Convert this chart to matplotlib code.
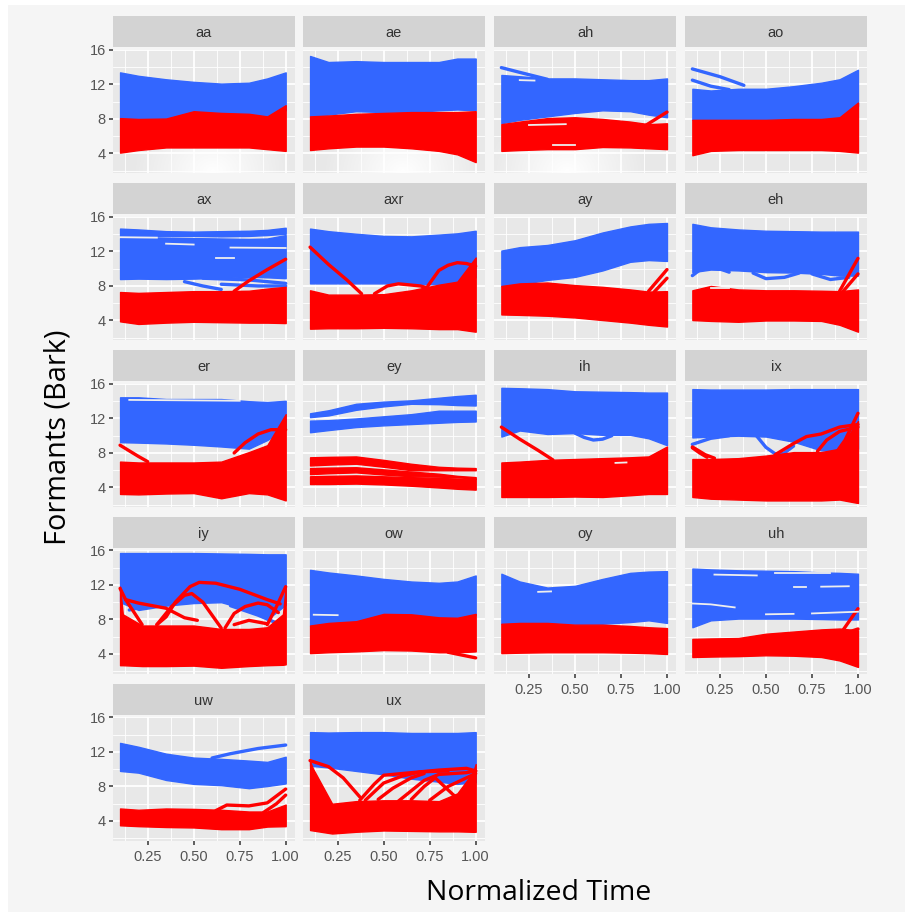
import matplotlib
matplotlib.use('Agg')
import matplotlib.pyplot as plt
from matplotlib.patches import Rectangle
import numpy as np

# --- Data (Bark values at these normalized times) ---
T = [0.1, 0.2, 0.35, 0.5, 0.65, 0.8, 0.9, 1.0]
T_FAN = [0.1, 0.115, 0.22, 0.35, 0.5, 0.65, 0.8, 0.9, 0.985, 1.0]

aa_f2_hi = [13.4, 13.0, 12.6, 12.3, 12.1, 12.2, 12.7, 13.4]
aa_f2_lo = [8.0, 8.0, 8.0, 8.5, 8.5, 8.4, 8.2, 9.0]
aa_f1_hi = [8.1, 8.0, 8.05, 8.9, 8.7, 8.6, 8.3, 9.6]
aa_f1_lo = [4.1, 4.4, 4.7, 4.7, 4.7, 4.7, 4.5, 4.3]

ae_f2_hi = [15.3, 14.6, 14.7, 14.6, 14.6, 14.6, 15.0, 15.0]
ae_f2_lo = [8.3, 8.5, 8.9, 8.8, 8.8, 9.0, 9.1, 9.0]
ae_f1_hi = [8.3, 8.4, 8.6, 8.7, 8.8, 8.8, 8.8, 8.9]
ae_f1_lo = [4.4, 4.6, 4.8, 4.8, 4.6, 4.3, 3.9, 3.0]

ah_f2_hi = [13.1, 12.95, 12.7, 12.7, 12.6, 12.5, 12.5, 12.7]
ah_f2_lo = [7.5, 7.9, 8.3, 8.7, 9.0, 8.9, 8.5, 8.2]
ah_f1_hi = [7.4, 7.7, 8.1, 8.2, 8.0, 7.7, 7.4, 7.5]
ah_f1_lo = [4.3, 4.4, 4.5, 4.5, 4.75, 4.7, 4.6, 4.5]
ah_f2_lines = [([0.1, 0.2, 0.35], [13.95, 13.4, 12.6])]
ah_f1_lines = [([0.88, 1.0], [7.2, 8.8])]
ah_gaps = [([0.2, 0.28], [12.5, 12.45]), ([0.25, 0.45], [7.3, 7.4]), ([0.38, 0.5], [4.95, 4.95])]

ao_f2_hi = [11.5, 11.3, 11.5, 11.5, 11.8, 12.2, 12.6, 13.7]
ao_f2_lo = [7.9, 7.9, 7.9, 7.9, 8.0, 8.0, 8.2, 9.5]
ao_f1_hi = [7.9, 7.9, 7.9, 7.9, 8.0, 8.0, 8.2, 9.9]
ao_f1_lo = [3.8, 4.3, 4.4, 4.4, 4.4, 4.4, 4.3, 4.1]
ao_f2_lines = [([0.1, 0.25, 0.38], [13.8, 12.9, 11.9]),
               ([0.1, 0.2, 0.3], [12.5, 11.8, 11.4])]

ax_f2a_hi = [14.65, 14.55, 14.35, 14.3, 14.35, 14.4, 14.5, 14.75]
ax_f2a_lo = [13.75, 13.7, 13.75, 13.8, 13.75, 13.8, 13.9, 14.05]
ax_f2b_hi = [13.55, 13.6, 13.55, 13.55, 13.5, 13.45, 13.5, 13.9]
ax_f2b_lo = [8.8, 8.85, 8.8, 8.85, 8.95, 9.05, 9.0, 8.9]
ax_f1_hi = [7.3, 7.2, 7.3, 7.4, 7.4, 7.45, 7.7, 7.9]
ax_f1_lo = [3.9, 3.6, 3.75, 3.85, 3.8, 3.75, 3.75, 3.7]
ax_f2_lines = [([0.45, 0.55, 0.65], [8.5, 8.0, 7.6]),
               ([0.55, 0.8, 1.0], [8.9, 8.7, 8.3]),
               ([0.65, 0.85, 1.0], [8.2, 8.0, 8.0])]
ax_f1_lines = [([0.72, 0.8, 0.9, 1.0], [7.4, 8.6, 9.9, 11.1])]
ax_gaps = [([0.1, 0.3], [13.65, 13.6]), ([0.7, 1.0], [12.45, 12.4]),
           ([0.62, 0.72], [11.2, 11.2]), ([0.35, 0.5], [12.9, 12.8])]

axr_f2_hi = [14.65, 14.35, 14.05, 13.8, 13.75, 13.95, 14.1, 14.4]
axr_f2_lo = [8.3, 8.3, 8.3, 8.3, 8.2, 8.2, 8.4, 9.0]
axr_f1_hi = [7.5, 7.0, 7.0, 7.05, 7.5, 8.15, 8.5, 11.3]
axr_f1_lo = [3.05, 3.1, 3.1, 3.15, 3.1, 3.0, 3.0, 2.7]
axr_f1_lines = [([0.1, 0.2, 0.3, 0.38], [12.5, 10.5, 8.7, 7.1]),
                ([0.45, 0.52, 0.58, 0.7, 0.75], [7.1, 8.0, 8.25, 8.0, 7.7]),
                ([0.74, 0.8, 0.85, 0.9, 0.95, 1.0], [8.0, 9.8, 10.4, 10.7, 10.6, 10.3])]

ay_f2_hi = [12.1, 12.5, 12.75, 13.3, 14.2, 14.9, 15.2, 15.3]
ay_f2_lo = [8.0, 8.2, 8.7, 9.05, 9.8, 10.8, 11.0, 10.9]
ay_f1_hi = [8.0, 8.3, 8.4, 8.1, 7.9, 7.6, 7.35, 7.4]
ay_f1_lo = [4.7, 4.65, 4.55, 4.35, 4.05, 3.75, 3.5, 3.3]
ay_f1_lines = [([0.9, 1.0], [7.4, 9.9]), ([0.93, 1.0], [7.3, 8.9])]

eh_f2_hi = [15.2, 14.8, 14.55, 14.4, 14.35, 14.3, 14.3, 14.3]
eh_f2_lo = [9.6, 9.9, 9.8, 9.6, 9.55, 9.4, 9.2, 9.2]
eh_f1_hi = [7.5, 8.0, 7.6, 7.5, 7.5, 7.45, 7.4, 7.6]
eh_f1_lo = [4.05, 3.95, 3.85, 4.0, 4.0, 3.95, 3.5, 2.7]
eh_f2_lines = [([0.1, 0.18, 0.3], [9.2, 10.5, 9.6]),
               ([0.43, 0.5, 0.6, 0.68], [9.5, 8.85, 9.0, 9.5]),
               ([0.75, 0.85, 0.95], [9.4, 8.75, 9.0])]
eh_f1_lines = [([0.9, 1.0], [7.4, 11.2]), ([0.92, 1.0], [7.4, 9.4])]
eh_gaps = [([0.2, 0.3], [7.75, 7.75])]

er_f2_hi = [14.45, 14.45, 14.25, 14.25, 14.25, 14.0, 13.9, 14.05]
er_f2_lo = [9.25, 9.2, 9.1, 8.95, 8.75, 8.5, 9.5, 10.8]
er_f1_hi = [7.0, 6.9, 6.9, 6.9, 7.0, 8.1, 8.9, 12.5]
er_f1_lo = [3.25, 3.2, 3.3, 3.35, 2.75, 3.35, 3.2, 2.5]
er_f1_lines = [([0.1, 0.2, 0.25], [8.9, 7.6, 7.0]),
               ([0.72, 0.78, 0.85, 0.92, 1.0], [8.0, 9.2, 10.2, 10.7, 10.7])]
er_gaps = [([0.15, 0.75], [14.15, 14.05])]

ey_f2a_hi = [12.6, 12.95, 13.7, 13.95, 14.1, 14.4, 14.6, 14.75]
ey_f2a_lo = [12.15, 12.35, 13.0, 13.4, 13.7, 13.65, 13.55, 13.5]
ey_f2b_hi = [11.75, 11.8, 12.0, 12.25, 12.5, 12.9, 12.9, 12.9]
ey_f2b_lo = [10.4, 10.65, 11.0, 11.2, 11.35, 11.5, 11.6, 11.65]
ey_f1a_hi = [7.5, 7.55, 7.6, 7.2, 6.75, 6.4, 6.3, 6.25]
ey_f1a_lo = [6.55, 6.65, 6.75, 6.4, 6.0, 6.0, 6.0, 6.0]
ey_f1b_hi = [6.25, 6.3, 6.35, 6.1, 5.85, 5.6, 5.35, 5.2]
ey_f1b_lo = [5.55, 5.65, 5.75, 5.5, 5.3, 5.25, 5.2, 5.0]
ey_f1c_hi = [5.3, 5.35, 5.4, 5.3, 5.2, 5.1, 5.05, 5.0]
ey_f1c_lo = [4.4, 4.4, 4.45, 4.35, 4.2, 4.0, 3.85, 3.75]

ih_f2_hi = [15.55, 15.5, 15.4, 15.15, 15.1, 15.05, 15.0, 15.0]
ih_f2_lo = [9.9, 10.6, 10.2, 10.3, 10.1, 10.1, 9.7, 8.9]
ih_f1_hi = [6.9, 7.0, 7.2, 7.3, 7.4, 7.5, 7.6, 8.75]
ih_f1_lo = [2.9, 2.9, 2.9, 2.95, 2.9, 3.1, 3.25, 3.25]
ih_f2_lines = [([0.5, 0.55, 0.6, 0.65, 0.7], [10.3, 9.8, 9.5, 9.6, 10.0])]
ih_f1_lines = [([0.1, 0.2, 0.3, 0.38], [11.0, 9.6, 8.3, 7.2])]
ih_gaps = [([0.72, 0.78], [6.85, 6.9])]

ix_f2_hi = [15.4, 15.35, 15.35, 15.35, 15.4, 15.4, 15.4, 15.4]
ix_f2_lo = [9.8, 9.9, 10.0, 9.9, 9.3, 8.3, 8.2, 8.5]
ix_f1_hi = [7.3, 7.3, 7.4, 7.7, 8.1, 8.1, 8.5, 11.7]
ix_f1_lo = [2.9, 2.7, 2.6, 2.5, 2.5, 2.5, 2.6, 2.2]
ix_f2_lines = [([0.1, 0.2, 0.3], [9.0, 9.7, 10.0]),
               ([0.45, 0.5, 0.55, 0.6, 0.65], [9.95, 8.65, 7.9, 8.0, 8.8])]
ix_f1_lines = [([0.1, 0.17, 0.22], [8.7, 7.8, 7.4]),
               ([0.1, 0.14, 0.18], [8.6, 8.0, 7.5]),
               ([0.55, 0.65, 0.72, 0.8, 0.9, 1.0], [7.8, 9.1, 9.9, 10.2, 11.0, 11.3]),
               ([0.78, 0.83, 0.9, 1.0], [8.2, 9.5, 10.5, 11.0]),
               ([0.88, 0.93, 1.0], [8.0, 9.5, 12.6])]

iy_f2_hi = [15.7, 15.7, 15.7, 15.7, 15.65, 15.6, 15.55, 15.55]
iy_f2_lo = [10.0, 9.1, 9.6, 9.9, 10.0, 9.1, 8.0, 9.7]
iy_f1_hi = [11.8, 8.6, 7.3, 7.3, 7.3, 6.9, 6.9, 7.1, 8.6, 11.8]
iy_f1_lo = [2.7, 2.7, 2.6, 2.6, 2.65, 2.4, 2.6, 2.7, 2.75, 2.8]
iy_f2_lines = [([0.15, 0.25, 0.35], [9.1, 9.6, 10.2]),
               ([0.7, 0.85, 0.95], [9.6, 8.5, 7.6])]
iy_f1_lines = [([0.1, 0.13, 0.2, 0.35, 0.45, 0.52], [11.6, 10.3, 9.9, 9.3, 8.2, 7.9]),
               ([0.13, 0.18, 0.22], [10.3, 8.7, 7.4]),
               ([0.3, 0.35, 0.4, 0.48, 0.53, 0.62, 0.75, 0.9, 0.97],
                [7.4, 8.3, 10.0, 11.8, 12.3, 12.2, 11.5, 10.3, 9.8]),
               ([0.3, 0.38, 0.45, 0.49, 0.55, 0.6, 0.65], [7.4, 9.5, 10.8, 11.0, 10.0, 8.5, 7.0]),
               ([0.67, 0.72, 0.78, 0.85, 0.9, 0.96], [7.0, 8.7, 9.5, 9.9, 9.7, 8.8]),
               ([0.72, 0.8, 0.9], [7.4, 7.9, 7.5]),
               ([0.9, 0.95, 1.0], [7.4, 9.5, 11.8])]

ow_f2_hi = [13.75, 13.45, 13.1, 12.7, 12.4, 12.25, 12.4, 13.1]
ow_f2_lo = [7.3, 7.5, 7.8, 8.4, 8.4, 8.2, 8.2, 8.5]
ow_f1_hi = [7.3, 7.6, 7.8, 8.65, 8.6, 8.25, 8.2, 8.65]
ow_f1_lo = [4.1, 4.2, 4.3, 4.45, 4.4, 4.2, 4.2, 4.3]
ow_f1_lines = [([0.85, 1.0], [4.2, 3.55])]
ow_gaps = [([0.12, 0.25], [8.55, 8.5])]

oy_f2_hi = [13.3, 12.4, 11.7, 11.9, 12.7, 13.4, 13.55, 13.6]
oy_f2_lo = [7.5, 7.6, 7.6, 7.5, 7.5, 7.7, 7.9, 7.6]
oy_f1_hi = [7.5, 7.6, 7.6, 7.4, 7.4, 7.25, 7.1, 7.0]
oy_f1_lo = [4.1, 4.15, 4.2, 4.2, 4.2, 4.15, 4.1, 4.0]
oy_gaps = [([0.3, 0.37], [11.2, 11.25])]

uh_f2_hi = [13.9, 13.8, 13.7, 13.65, 13.6, 13.45, 13.4, 13.3]
uh_f2_lo = [7.1, 7.9, 8.1, 8.1, 8.1, 8.05, 8.0, 8.0]
uh_f1_hi = [5.75, 5.8, 5.85, 6.35, 6.6, 6.85, 6.95, 6.75]
uh_f1_lo = [3.65, 3.7, 3.75, 3.85, 3.8, 3.65, 3.25, 2.5]
uh_f1_lines = [([0.9, 1.0], [6.2, 9.25]), ([0.93, 1.0], [6.4, 6.9])]
uh_gaps = [([0.1, 0.2, 0.33], [9.85, 9.75, 9.4]), ([0.22, 0.45], [13.2, 13.1]),
           ([0.55, 0.85], [13.4, 13.4]), ([0.65, 0.72], [11.8, 11.8]),
           ([0.8, 0.95], [11.8, 11.85]), ([0.5, 0.65], [8.6, 8.65]),
           ([0.75, 1.0], [8.7, 8.9])]

uw_f2_hi = [13.05, 12.6, 11.8, 11.35, 11.2, 11.0, 10.85, 11.45]
uw_f2_lo = [9.8, 9.6, 8.75, 8.3, 8.15, 7.8, 8.05, 8.35]
uw_f1_hi = [5.45, 5.3, 5.45, 5.4, 5.3, 5.1, 5.1, 5.9]
uw_f1_lo = [3.5, 3.4, 3.3, 3.25, 3.05, 3.05, 3.35, 3.4]
uw_f2_lines = [([0.6, 0.7, 0.85, 1.0], [11.3, 11.8, 12.4, 12.8])]
uw_f1_lines = [([0.62, 0.68, 0.8, 0.9, 1.0], [5.2, 5.85, 5.75, 6.1, 7.7]),
               ([0.88, 0.95, 1.0], [5.0, 6.0, 7.0])]

ux_f2_hi = [14.3, 14.25, 14.3, 14.3, 14.2, 14.2, 14.2, 14.3]
ux_f2_lo = [10.4, 10.2, 9.8, 9.4, 8.9, 8.55, 8.3, 8.5]
ux_f1_hi = [10.9, 10.1, 6.0, 6.3, 6.4, 6.4, 6.3, 7.2, 9.6, 10.6]
ux_f1_lo = [2.95, 2.9, 2.55, 2.75, 2.9, 2.85, 2.8, 2.8, 2.75, 2.75]
ux_f1_lines = [([0.1, 0.2, 0.28, 0.37], [11.0, 10.3, 9.0, 6.8]),
               ([0.37, 0.45, 0.5, 0.6, 0.8, 0.95, 1.0], [6.4, 8.3, 9.3, 9.5, 9.9, 10.1, 9.8]),
               ([0.4, 0.5, 0.6, 0.7, 0.85], [6.4, 8.4, 9.2, 9.7, 9.8]),
               ([0.47, 0.55, 0.65, 0.72], [6.5, 7.8, 9.0, 9.5]),
               ([0.58, 0.65, 0.72, 0.8, 0.95, 1.0], [6.3, 7.5, 8.7, 9.4, 9.6, 9.8]),
               ([0.65, 0.72, 0.78, 0.88, 0.93], [6.5, 8.0, 9.0, 7.0, 6.0]),
               ([0.75, 0.85, 0.95, 1.0], [6.4, 8.0, 9.0, 9.5])]

# name, F2 bands, F1 bands, F2 outliers, F1 outliers, gaps
panels = [
    ('aa', [(aa_f2_hi, aa_f2_lo)], [(aa_f1_hi, aa_f1_lo)], [], [], []),
    ('ae', [(ae_f2_hi, ae_f2_lo)], [(ae_f1_hi, ae_f1_lo)], [], [], []),
    ('ah', [(ah_f2_hi, ah_f2_lo)], [(ah_f1_hi, ah_f1_lo)], ah_f2_lines, ah_f1_lines, ah_gaps),
    ('ao', [(ao_f2_hi, ao_f2_lo)], [(ao_f1_hi, ao_f1_lo)], ao_f2_lines, [], []),
    ('ax', [(ax_f2a_hi, ax_f2a_lo), (ax_f2b_hi, ax_f2b_lo)], [(ax_f1_hi, ax_f1_lo)],
     ax_f2_lines, ax_f1_lines, ax_gaps),
    ('axr', [(axr_f2_hi, axr_f2_lo)], [(axr_f1_hi, axr_f1_lo)], [], axr_f1_lines, []),
    ('ay', [(ay_f2_hi, ay_f2_lo)], [(ay_f1_hi, ay_f1_lo)], [], ay_f1_lines, []),
    ('eh', [(eh_f2_hi, eh_f2_lo)], [(eh_f1_hi, eh_f1_lo)], eh_f2_lines, eh_f1_lines, eh_gaps),
    ('er', [(er_f2_hi, er_f2_lo)], [(er_f1_hi, er_f1_lo)], [], er_f1_lines, er_gaps),
    ('ey', [(ey_f2a_hi, ey_f2a_lo), (ey_f2b_hi, ey_f2b_lo)],
     [(ey_f1a_hi, ey_f1a_lo), (ey_f1b_hi, ey_f1b_lo), (ey_f1c_hi, ey_f1c_lo)], [], [], []),
    ('ih', [(ih_f2_hi, ih_f2_lo)], [(ih_f1_hi, ih_f1_lo)], ih_f2_lines, ih_f1_lines, ih_gaps),
    ('ix', [(ix_f2_hi, ix_f2_lo)], [(ix_f1_hi, ix_f1_lo)], ix_f2_lines, ix_f1_lines, []),
    ('iy', [(iy_f2_hi, iy_f2_lo)], [(iy_f1_hi, iy_f1_lo)], iy_f2_lines, iy_f1_lines, []),
    ('ow', [(ow_f2_hi, ow_f2_lo)], [(ow_f1_hi, ow_f1_lo)], [], ow_f1_lines, ow_gaps),
    ('oy', [(oy_f2_hi, oy_f2_lo)], [(oy_f1_hi, oy_f1_lo)], [], [], oy_gaps),
    ('uh', [(uh_f2_hi, uh_f2_lo)], [(uh_f1_hi, uh_f1_lo)], [], uh_f1_lines, uh_gaps),
    ('uw', [(uw_f2_hi, uw_f2_lo)], [(uw_f1_hi, uw_f1_lo)], uw_f2_lines, uw_f1_lines, []),
    ('ux', [(ux_f2_hi, ux_f2_lo)], [(ux_f1_hi, ux_f1_lo)], [], ux_f1_lines, []),
]

# --- Layout in pixels ---
W, H = 909, 915
COL_X = [112.7, 302.7, 494, 685]
PANEL_W = 182
ROW_STRIP = [16, 183, 350, 517, 684]
ROW_PANEL = [49.5, 216.5, 383.5, 550, 717]
STRIP_H = 31
PANEL_H = 123.5

BLUE = '#3366ff'
RED = '#ff0000'
PANEL_BG = '#e8e8e8'
LW_BAND = 1.0
LW_LINE = 2.4

# screenshot glare on some panels: name -> (centre x, centre y in axes coords)
GLARE = {'aa': (0.55, 0.0), 'ae': (0.55, 0.0), 'ah': (0.4, 0.0)}

plt.rcParams['font.family'] = ['Liberation Sans', 'DejaVu Sans']

fig = plt.figure(figsize=(W / 100, H / 100), dpi=100, facecolor='white')
fig.add_artist(Rectangle((8 / W, 1 - 912 / H), 897 / W, 907 / H, transform=fig.transFigure,
                         facecolor='#f5f5f5', edgecolor='none', zorder=-5))


def px_axes(x, y, w, h):
    return fig.add_axes([x / W, 1 - (y + h) / H, w / W, h / H])


for i, (name, f2_bands, f1_bands, f2_lines, f1_lines, gaps) in enumerate(panels):
    row, col = divmod(i, 4)
    x0 = COL_X[col]

    strip = px_axes(x0, ROW_STRIP[row], PANEL_W, STRIP_H)
    strip.set_facecolor('#d3d3d3')
    strip.set_xticks([])
    strip.set_yticks([])
    for s in strip.spines.values():
        s.set_visible(False)
    strip.text(0.5, 0.33, name, transform=strip.transAxes, ha='center', va='baseline',
               fontsize=10.5, color='#333333')

    ax = px_axes(x0, ROW_PANEL[row], PANEL_W, PANEL_H)
    ax.set_facecolor(PANEL_BG)
    for s in ax.spines.values():
        s.set_visible(False)
    ax.set_xticks([0.25, 0.5, 0.75, 1.0])
    ax.set_xticks([0.125, 0.375, 0.625, 0.875], minor=True)
    ax.set_yticks([4, 8, 12, 16])
    ax.set_yticks([2, 6, 10, 14], minor=True)
    ax.grid(True, which='major', color='white', linewidth=1.3)
    ax.grid(True, which='minor', color='white', linewidth=0.6)
    ax.set_axisbelow(True)
    ax.tick_params(which='minor', length=0)
    ax.tick_params(axis='both', which='major', length=3, width=1.2, color='#444444',
                   labelsize=10.5, labelcolor='#555555', pad=2)
    ax.tick_params(axis='x', which='major', pad=3.5)

    show_x = i >= 14
    show_y = col == 0
    ax.tick_params(axis='x', bottom=show_x, labelbottom=show_x)
    ax.tick_params(axis='y', left=show_y, labelleft=show_y)
    if show_x:
        ax.set_xticklabels(['0.25', '0.50', '0.75', '1.00'])

    if name in GLARE:
        cx, cy = GLARE[name]
        gy, gx = np.mgrid[0:1:60j, 0:1:90j]
        glow = np.clip(1 - np.hypot((gx - cx) / 0.45, (gy - cy) / 0.55), 0, 1)
        rgba = np.ones((60, 90, 4))
        rgba[..., 3] = glow
        ax.imshow(rgba, origin='lower', extent=(0, 1, 0, 1), transform=ax.transAxes,
                  aspect='auto', zorder=2)

    f1_x = T_FAN if name in ('iy', 'ux') else T
    for hi, lo in f2_bands:
        ax.fill_between(T, lo, hi, color=BLUE, linewidth=LW_BAND, joinstyle='round', zorder=3)
    for xs, ys in f2_lines:
        ax.plot(xs, ys, color=BLUE, linewidth=LW_LINE, solid_capstyle='round', zorder=3)
    for hi, lo in f1_bands:
        ax.fill_between(f1_x, lo, hi, color=RED, linewidth=LW_BAND, joinstyle='round', zorder=5)
    for xs, ys in f1_lines:
        ax.plot(xs, ys, color=RED, linewidth=LW_LINE, solid_capstyle='round', zorder=5)
    for xs, ys in gaps:
        ax.plot(xs, ys, color='#eeeeee', linewidth=1.3, zorder=6)

    ax.set_xlim(0.06, 1.049)
    ax.set_ylim(1.74, 16.05)

fig.text(58 / W, 1 - 437 / H, 'Formants (Bark)', rotation=90, ha='center', va='center',
         fontsize=20.8, color='black', family=['Open Sans', 'DejaVu Sans'])
fig.text(539 / W, 1 - 893 / H, 'Normalized Time', ha='center', va='center',
         fontsize=20.4, color='black', family=['Open Sans', 'DejaVu Sans'])

fig.savefig('out.png', dpi=100, facecolor='white')
plt.close()
